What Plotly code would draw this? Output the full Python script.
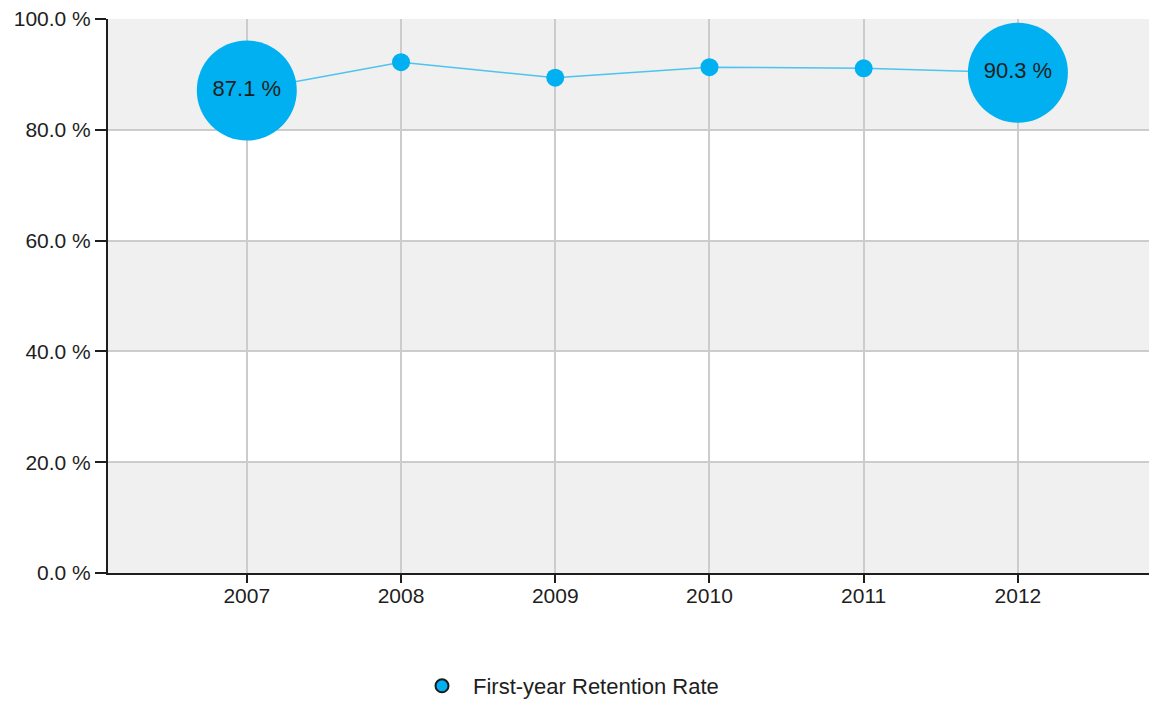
import plotly.graph_objects as go

years = [2007, 2008, 2009, 2010, 2011, 2012]
rates = [87.1, 92.2, 89.4, 91.3, 91.1, 90.3]
labels = ["87.1 %", "", "", "", "", "90.3 %"]
marker_sizes = [100, 18, 18, 18, 18, 100]
series_name = "First-year Retention Rate"
y_ticks = [0, 20, 40, 60, 80, 100]
y_ticktext = ["0.0 %", "20.0 %", "40.0 %", "60.0 %", "80.0 %", "100.0 %"]

FONT = "Liberation Sans, Arial, sans-serif"
BLUE = "#00B0F0"
TXT = "#1e1e1e"
FS = 21

fig = go.Figure()

fig.add_trace(go.Scatter(
    x=years, y=rates, mode="lines+markers+text",
    text=labels, textposition="middle center",
    textfont=dict(family=FONT, size=22, color=TXT),
    line=dict(color="#4CC3F0", width=1.5),
    marker=dict(color=BLUE, size=marker_sizes, opacity=1, line=dict(width=0)),
    showlegend=False, cliponaxis=False, hoverinfo="x+y",
))

fig.add_trace(go.Scatter(
    x=[None], y=[None], mode="markers", name=series_name,
    marker=dict(color=BLUE, size=13, line=dict(color="#1a1a1a", width=2)),
))

shapes = []
for i in range(0, len(y_ticks) - 1, 2):
    shapes.append(dict(type="rect", xref="paper", yref="y", x0=0, x1=1,
                       y0=y_ticks[i], y1=y_ticks[i + 1],
                       fillcolor="#F0F0F0", line=dict(width=0), layer="below"))

fig.update_layout(
    width=1149, height=702,
    margin=dict(l=108, r=0, t=19, b=129),
    paper_bgcolor="white", plot_bgcolor="white",
    font=dict(family=FONT, size=FS, color=TXT),
    shapes=shapes,
    showlegend=True,
    legend=dict(orientation="h", xref="container", yref="container",
                x=411 / 1149, xanchor="left",
                y=1 - 686 / 702, yanchor="middle",
                font=dict(family=FONT, size=22, color=TXT),
                itemsizing="trace", itemwidth=52, bgcolor="rgba(0,0,0,0)"),
    xaxis=dict(
        range=[2006.1, 2012.85], tickmode="array", tickvals=years,
        ticktext=[str(y) for y in years],
        showgrid=True, gridcolor="#CCCCCC", gridwidth=1.5,
        showline=True, linecolor="#1e1e1e", linewidth=2,
        ticks="outside", ticklen=8, tickcolor="#1e1e1e", tickwidth=2,
        ticklabelstandoff=-5,
        zeroline=False, tickfont=dict(size=FS),
    ),
    yaxis=dict(
        range=[0, 100], tickmode="array", tickvals=y_ticks, ticktext=y_ticktext,
        showgrid=True, gridcolor="#CCCCCC", gridwidth=1.5,
        showline=True, linecolor="#1e1e1e", linewidth=2,
        ticks="outside", ticklen=11, tickcolor="#1e1e1e", tickwidth=2,
        zeroline=False, tickfont=dict(size=FS),
    ),
)

fig.write_html(
    "out.html",
    config={"displayModeBar": False},
    post_script="document.body.style.margin='0';document.body.style.overflow='hidden';",
)
